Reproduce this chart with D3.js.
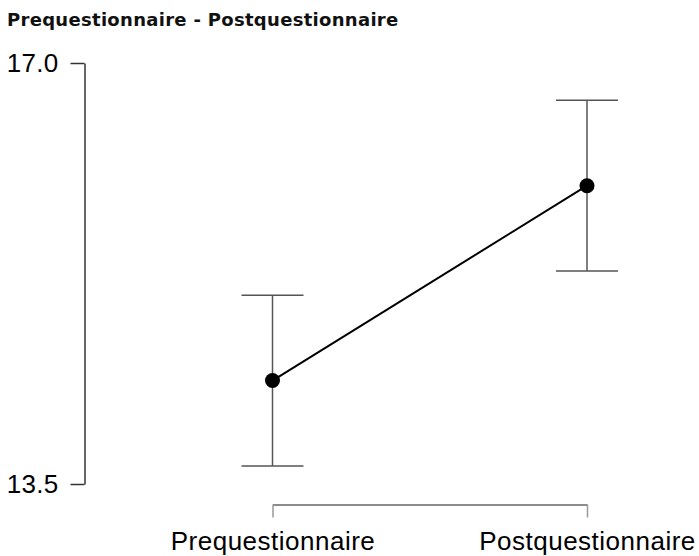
<!DOCTYPE html>
<html>
<head>
<meta charset="utf-8">
<script src="https://cdn.jsdelivr.net/npm/d3@7"></script>
<style>
  body { margin: 0; background: #fff; }
</style>
</head>
<body>
<div id="chart"></div>
<script>
// data
var conditions = ["Prequestionnaire", "Postquestionnaire"];
var means = [14.36, 15.98];
var ciLower = [13.65, 15.27];
var ciUpper = [15.07, 16.69];
var yTicks = [13.5, 17.0];

var width = 699, height = 556;

var svg = d3.select("#chart")
    .append("svg")
    .attr("width", width)
    .attr("height", height);

// Title
svg.append("text")
    .attr("x", 7)
    .attr("y", 26)
    .style("font-family", "DejaVu Sans")
    .style("font-weight", "bold")
    .style("font-size", "18px")
    .style("letter-spacing", "0.3px")
    .attr("fill", "#111")
    .text("Prequestionnaire - Postquestionnaire");

var x = d3.scalePoint()
    .domain(conditions)
    .range([272.5, 587]);

var y = d3.scaleLinear()
    .domain([13.5, 17.0])
    .range([484, 63]);

// Y axis
var yAxisCall = d3.axisLeft(y)
    .tickValues(yTicks)
    .tickFormat(d3.format(".1f"))
    .tickSize(14)
    .tickSizeOuter(0)
    .tickPadding(12);

var yAxis = svg.append("g")
    .attr("class", "y axis")
    .attr("transform", "translate(84.5,0)")
    .call(yAxisCall);
yAxis.select(".domain").attr("stroke", "#333").attr("stroke-width", 1.5);
yAxis.selectAll(".tick line").attr("stroke", "#333").attr("stroke-width", 1.5);
yAxis.selectAll("text")
    .style("font-family", "Liberation Sans")
    .style("font-size", "26px")
    .style("letter-spacing", "0.3px")
    .attr("fill", "#000");

// X axis
var xAxisCall = d3.axisBottom(x)
    .tickSize(13)
    .tickSizeOuter(0)
    .tickPadding(14);

var xAxis = svg.append("g")
    .attr("class", "x axis")
    .attr("transform", "translate(0,504.5)")
    .call(xAxisCall);
xAxis.select(".domain").attr("stroke", "#666").attr("stroke-width", 1.5);
xAxis.selectAll(".tick line").attr("stroke", "#999").attr("stroke-width", 1.5);
xAxis.selectAll("text")
    .style("font-family", "Liberation Sans")
    .style("font-size", "26px")
    .style("letter-spacing", "0.5px")
    .attr("fill", "#000");

// Error bars
var bars = svg.append("g").selectAll("g")
    .data(conditions)
    .enter()
    .append("g");

bars.append("line")
    .attr("x1", function(d) { return x(d); })
    .attr("x2", function(d) { return x(d); })
    .attr("y1", function(d, i) { return y(ciLower[i]); })
    .attr("y2", function(d, i) { return y(ciUpper[i]); })
    .attr("stroke", "#555")
    .attr("stroke-width", 1.5);

bars.append("line")
    .attr("x1", function(d) { return x(d) - 31; })
    .attr("x2", function(d) { return x(d) + 31; })
    .attr("y1", function(d, i) { return y(ciLower[i]); })
    .attr("y2", function(d, i) { return y(ciLower[i]); })
    .attr("stroke", "#555")
    .attr("stroke-width", 1.5);

bars.append("line")
    .attr("x1", function(d) { return x(d) - 31; })
    .attr("x2", function(d) { return x(d) + 31; })
    .attr("y1", function(d, i) { return y(ciUpper[i]); })
    .attr("y2", function(d, i) { return y(ciUpper[i]); })
    .attr("stroke", "#555")
    .attr("stroke-width", 1.5);

// Mean line
var line = d3.line()
    .x(function(d, i) { return x(conditions[i]); })
    .y(function(d) { return y(d); });

svg.append("path")
    .datum(means)
    .attr("d", line)
    .attr("fill", "none")
    .attr("stroke", "#000")
    .attr("stroke-width", 2);

// Points
svg.append("g").selectAll("circle")
    .data(means)
    .enter()
    .append("circle")
    .attr("cx", function(d, i) { return x(conditions[i]); })
    .attr("cy", function(d) { return y(d); })
    .attr("r", 7.5)
    .attr("fill", "#000");
</script>
</body>
</html>
